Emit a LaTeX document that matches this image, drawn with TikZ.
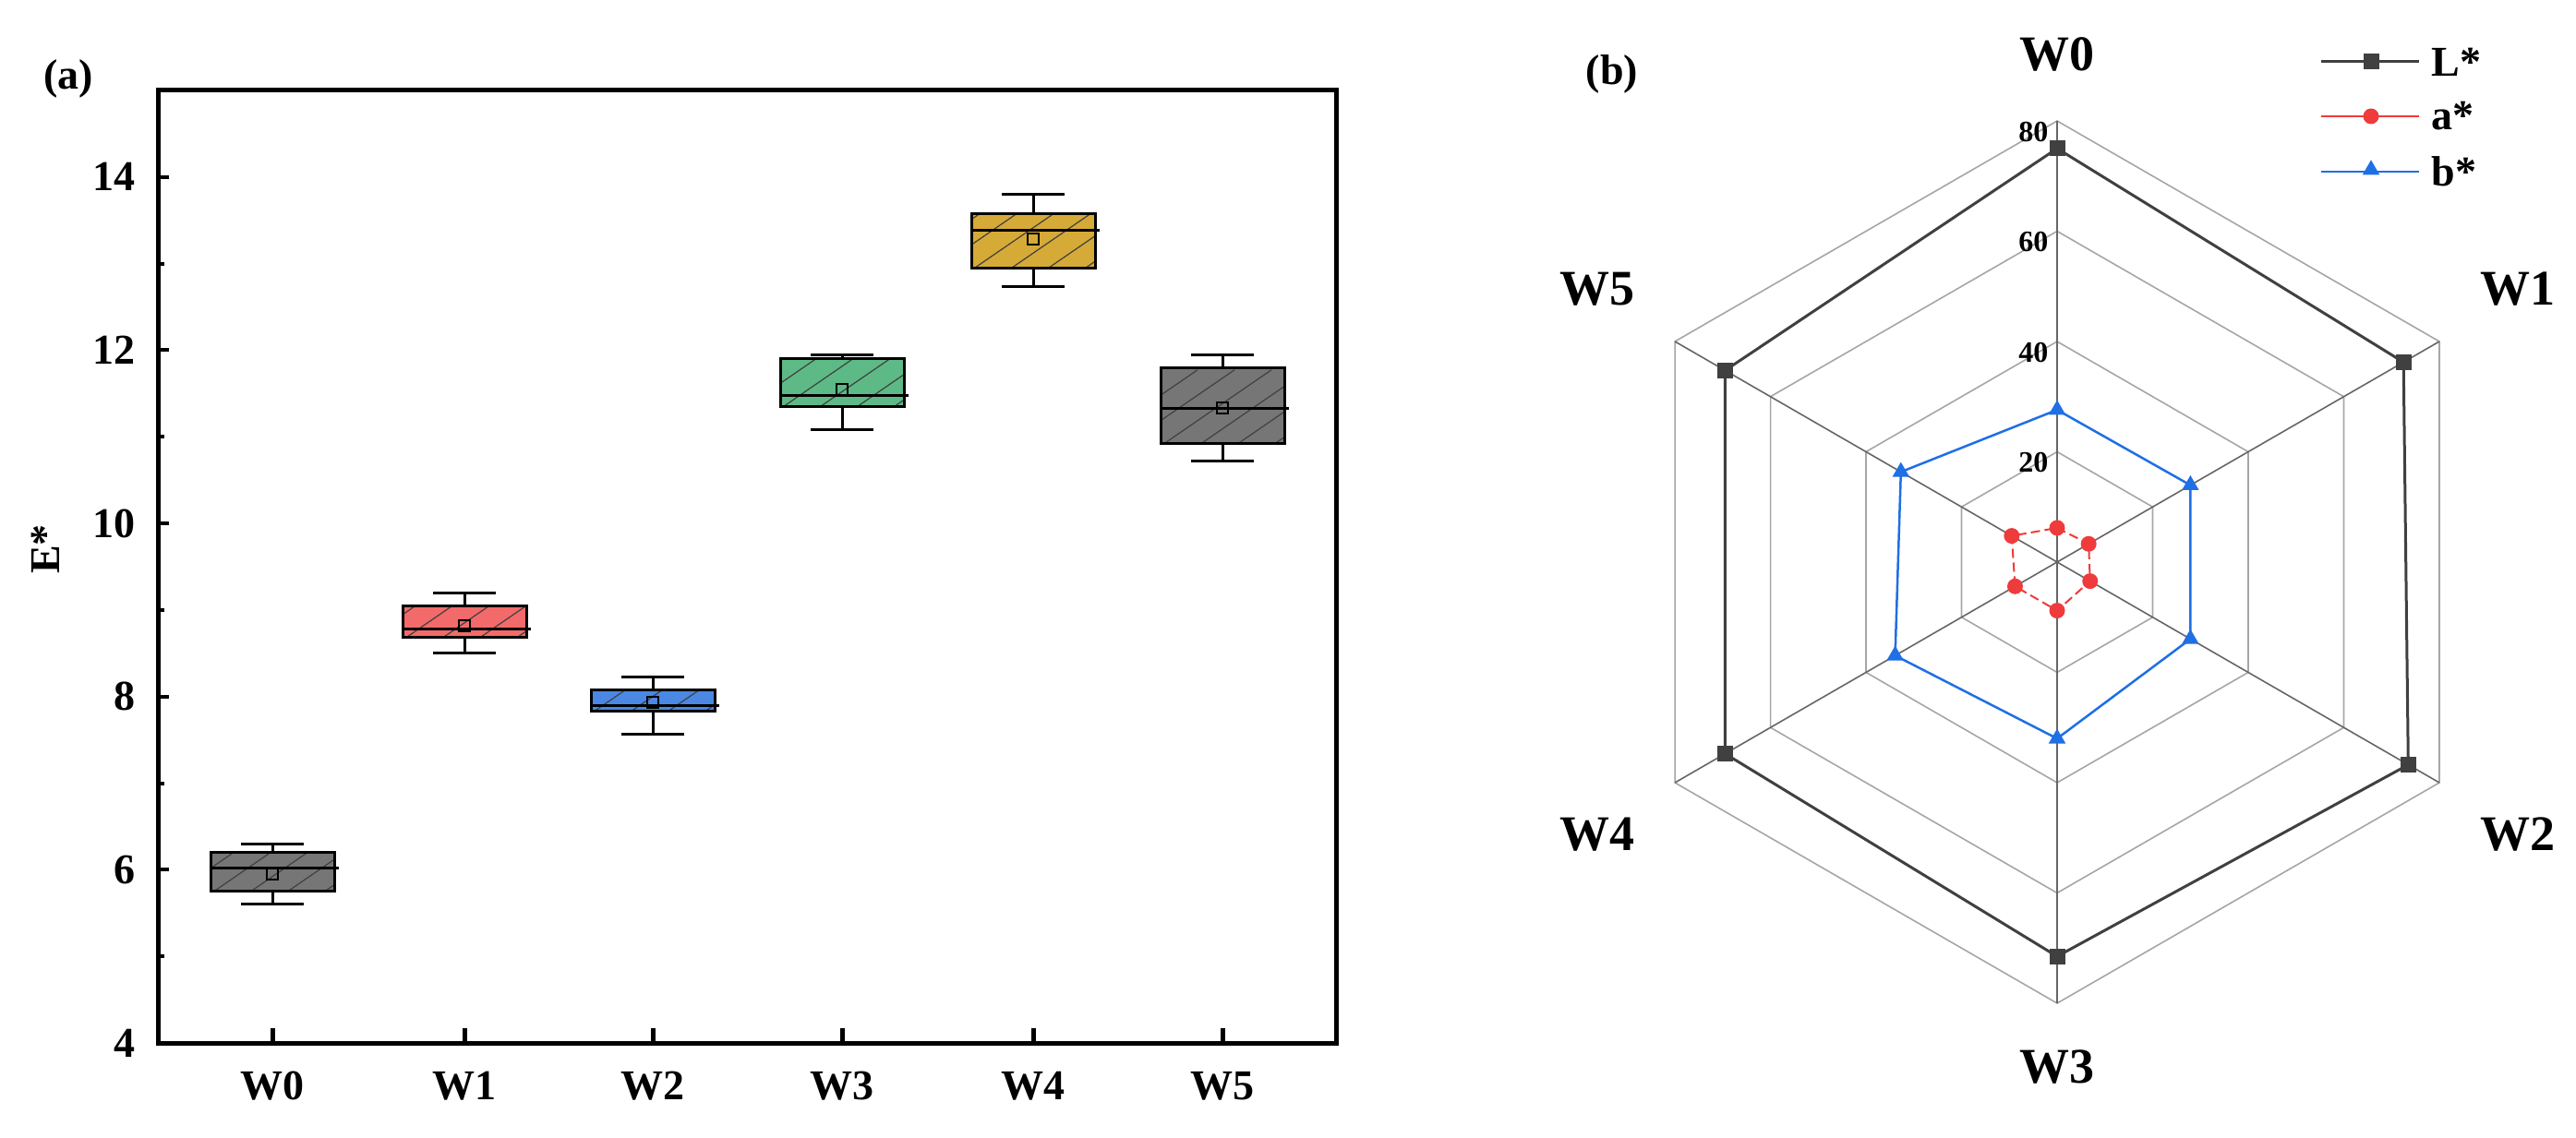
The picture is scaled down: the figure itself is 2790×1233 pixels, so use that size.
\documentclass[tikz,border=0pt]{standalone}
\usepackage{fontspec}
\setmainfont{Liberation Serif}
\usetikzlibrary{shapes.geometric}
\definecolor{cgray}{HTML}{767676}
\definecolor{cred}{HTML}{F26A6A}
\definecolor{cblue}{HTML}{4A88E3}
\definecolor{cgreen}{HTML}{5DBA86}
\definecolor{cgold}{HTML}{D6AA36}
\definecolor{lgray}{HTML}{404040}
\definecolor{rblue}{HTML}{1F6FE5}
\definecolor{rred}{HTML}{EF3B3B}
\begin{document}
\begin{tikzpicture}[x=1pt,y=-1pt,
  lab/.style={font=\bfseries\fontsize{46}{50}\selectfont},
  big/.style={font=\bfseries\fontsize{54}{58}\selectfont},
  small/.style={font=\bfseries\fontsize{32}{36}\selectfont},
  boxline/.style={line width=3pt},
  Lm/.style={rectangle,fill=lgray,minimum size=17pt,inner sep=0pt},
  am/.style={circle,fill=rred,minimum size=17pt,inner sep=0pt},
  bm/.style={isosceles triangle,shape border rotate=90,isosceles triangle apex angle=60,fill=rblue,minimum height=16pt,inner sep=0pt}]
\useasboundingbox (0,0) rectangle (2790,1233);
% ---------- panel (a)
\newcommand\yv[1]{1130-(#1-4)*93.82}
\newcommand\bxp[8]{%
 \pgfmathsetmacro\ya{1130-(#2-4)*93.82}\pgfmathsetmacro\yb{1130-(#3-4)*93.82}%
 \pgfmathsetmacro\yc{1130-(#4-4)*93.82}\pgfmathsetmacro\yd{1130-(#5-4)*93.82}%
 \pgfmathsetmacro\ye{1130-(#6-4)*93.82}\pgfmathsetmacro\yf{1130-(#7-4)*93.82}%
 \draw[boxline] (#1,\ya)--(#1,\yb) (#1-34,\ya)--(#1+34,\ya);
 \draw[boxline] (#1,\ye)--(#1,\yf) (#1-34,\yf)--(#1+34,\yf);
 \fill[#8] (#1-67,\yb) rectangle (#1+67,\ye);
 \begin{scope}\clip (#1-67,\yb) rectangle (#1+67,\ye);
  \foreach \k in {-8,...,8} \draw[line width=1.2pt,black!75] (#1-67+\k*40,\yb+30)--++(160,-110);
 \end{scope}
 \draw[boxline] (#1-67,\yb) rectangle (#1+67,\ye);
 \draw[boxline] (#1-67,\yc)--(#1+72,\yc);
 \draw[line width=2pt] (#1-6,\yd-6) rectangle (#1+6,\yd+6);
}
\bxp{295}{5.6}{5.75}{6.02}{5.95}{6.2}{6.3}{cgray}
\bxp{503}{8.5}{8.68}{8.78}{8.82}{9.05}{9.2}{cred}
\bxp{707}{7.57}{7.83}{7.9}{7.93}{8.08}{8.23}{cblue}
\bxp{912}{11.08}{11.35}{11.48}{11.55}{11.9}{11.95}{cgreen}
\bxp{1119}{12.73}{12.95}{13.38}{13.28}{13.58}{13.8}{cgold}
\bxp{1324}{10.72}{10.92}{11.33}{11.33}{11.8}{11.95}{cgray}
\draw[line width=5pt] (171,98) rectangle (1447,1130);
\foreach \v in {4,6,...,14} {\draw[line width=4pt] (171,{\yv{\v}})--++(12,0);
  \node[lab,anchor=east] (t\v) at (150,{\yv{\v}}) {\v};}
\foreach \v in {5,7,...,13} \draw[line width=4pt] (171,{\yv{\v}})--++(7,0);
\foreach \x/\n in {295/0,503/1,707/2,912/3,1119/4,1324/5} {
  \draw[line width=5pt] (\x,1130)--++(0,-16);
  \node[lab] (x\n) at (\x,1177) {W\n};}
\node[lab,rotate=90] (ylab) at (49,613) {$\mathbf{\Delta}$E*};
\node[lab] (pa) at (74,85) {(a)};
% ---------- panel (b)
\node[lab] (pb) at (1746,80) {(b)};
\begin{scope}[shift={(2228,609)},yscale=-1]
 \foreach \r in {20,40,60,80}
   \draw[gray!70,line width=1.6pt] (90:\r*5.975) \foreach \a in {30,-30,-90,-150,150}{--(\a:\r*5.975)}--cycle;
 \foreach \a in {90,30,-30,-90,-150,150} \draw[black!60,line width=1.6pt] (0,0)--(\a:80*5.975);
 \foreach \r in {20,40,60,80} \node[small,anchor=east] (r\r) at (-6,\r*5.975-12) {\r};
 \draw[lgray,line width=3pt] (90:75*5.975)--(30:72.5*5.975)--(-30:73.5*5.975)--(-90:71.5*5.975)--(-150:69.5*5.975)--(150:69.5*5.975)--cycle;
 \foreach \a/\r in {90/75,30/72.5,-30/73.5,-90/71.5,-150/69.5,150/69.5} \node[Lm] at (\a:\r*5.975) {};
 \draw[rblue,line width=2.5pt] (90:27.6*5.975)--(30:27.9*5.975)--(-30:27.9*5.975)--(-90:32*5.975)--(-150:33.9*5.975)--(150:32.7*5.975)--cycle;
 \foreach \a/\r in {90/27.6,30/27.9,-30/27.9,-90/32,-150/33.9,150/32.7} \node[bm] at (\a:\r*5.975) {};
 \draw[rred,line width=2pt,dash pattern=on 10pt off 5pt] (90:6.2*5.975)--(30:6.6*5.975)--(-30:6.9*5.975)--(-90:8.8*5.975)--(-150:8.8*5.975)--(150:9.5*5.975)--cycle;
 \foreach \a/\r in {90/6.2,30/6.6,-30/6.9,-90/8.8,-150/8.8,150/9.5} \node[am] at (\a:\r*5.975) {};
\end{scope}
\node[big] (w0) at (2228,59) {W0};
\node[big] (w1) at (2727,313) {W1};
\node[big] (w2) at (2727,904) {W2};
\node[big] (w3) at (2228,1156) {W3};
\node[big] (w4) at (1730,904) {W4};
\node[big] (w5) at (1730,313) {W5};
% legend
\coordinate (l1a) at (2514,67); \coordinate (l1b) at (2620,67);
\coordinate (l2a) at (2514,126); \coordinate (l2b) at (2620,126);
\coordinate (l3a) at (2514,186); \coordinate (l3b) at (2620,186);
\draw[lgray,line width=3pt] (l1a)--(l1b); \node[Lm] (m1) at (2568,67) {};
\draw[rred,line width=2pt] (l2a)--(l2b); \node[am] (m2) at (2568,126) {};
\draw[rblue,line width=2.5pt] (l3a)--(l3b); \node[bm] (m3) at (2568,184) {};
\node[lab,anchor=west] (e1) at (2630,67) {L*};
\node[lab,anchor=west] (e2) at (2630,126) {a*};
\node[lab,anchor=west] (e3) at (2630,186) {b*};
\end{tikzpicture}
\end{document}
